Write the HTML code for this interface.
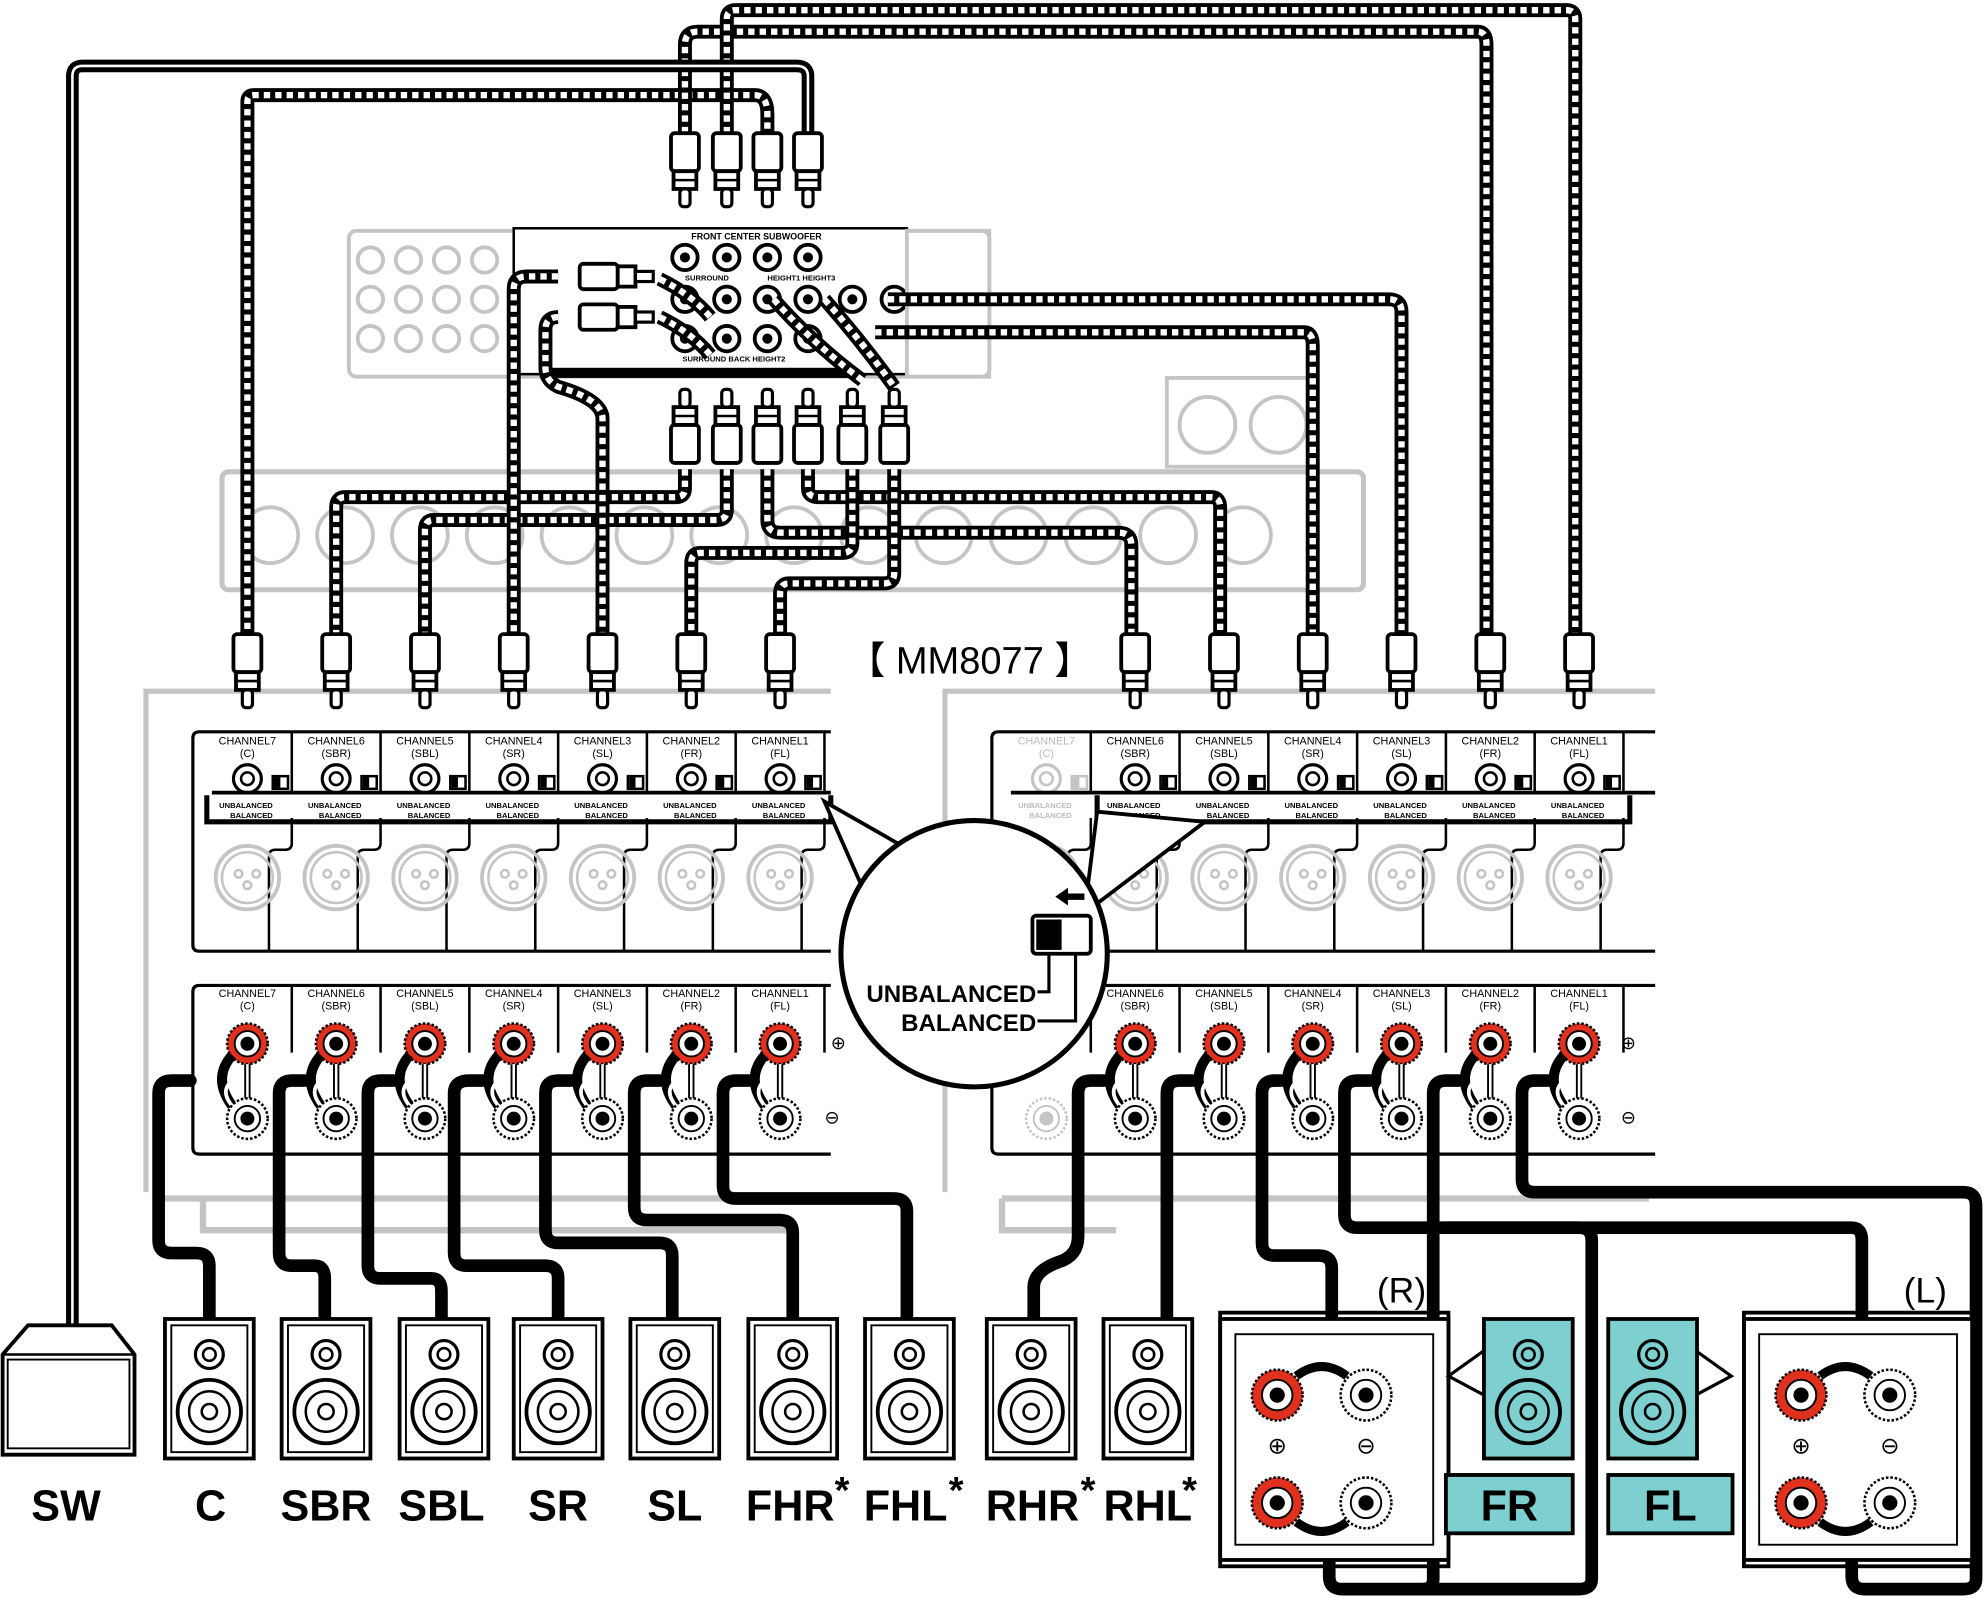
<!DOCTYPE html>
<html><head><meta charset="utf-8"><style>
html,body{margin:0;padding:0;background:#fff;}
svg{display:block;}
text{font-family:"Liberation Sans",sans-serif;}
</style></head><body>
<svg id="s" width="1985" height="1598" viewBox="0 0 1565 1260" xmlns="http://www.w3.org/2000/svg">
<g id="g"></g>
</svg>
<script>
const g=document.getElementById('g');let h='';
const gr='#c4c4c4';
h+=`<rect x="275" y="182" width="505" height="115" rx="6" fill="none" stroke="${gr}" stroke-width="3"/>`;
for(let r=0;r<3;r++)for(let c=0;c<4;c++){h+=`<circle cx="${292+c*30}" cy="${205+r*31}" r="10" fill="none" stroke="${gr}" stroke-width="3"/>`;}
for(let r=0;r<3;r++)for(let c=0;c<3;c++){h+=`<circle cx="${420+c*30}" cy="${205+r*31}" r="10" fill="none" stroke="${gr}" stroke-width="3"/>`;}
h+=`<rect x="405" y="180" width="310" height="115" fill="#fff" stroke="#000" stroke-width="2"/>`;
h+=`<rect x="435" y="290" width="235" height="8" fill="#000"/>`;
[[540,203],[573,203],[605,203],[637,203],[540,236],[573,236],[605,236],[637,236],[672,236],[705,236],[540,267],[573,267],[605,267],[637,267]].forEach(p=>{h+=`<circle cx="${p[0]}" cy="${p[1]}" r="10" fill="#fff" stroke="#000" stroke-width="3"/><circle cx="${p[0]}" cy="${p[1]}" r="4" fill="#000"/>`;});
h+=`<text x="545" y="189" font-size="7" font-weight="bold">FRONT   CENTER  SUBWOOFER</text><text x="540" y="221" font-size="6" font-weight="bold">SURROUND</text><text x="605" y="221" font-size="6" font-weight="bold">HEIGHT1   HEIGHT3</text><text x="538" y="285" font-size="6" font-weight="bold">SURROUND BACK   HEIGHT2</text>`;
h+=`<rect x="715" y="182" width="65" height="115" fill="none" stroke="${gr}" stroke-width="3"/>`;
h+=`<rect x="175" y="372" width="900" height="93" rx="5" fill="none" stroke="${gr}" stroke-width="4"/>`;
for(let i=0;i<14;i++){h+=`<circle cx="${213+i*59}" cy="${422}" r="22" fill="none" stroke="${gr}" stroke-width="3"/>`;}
h+=`<rect x="920" y="298" width="115" height="70" fill="none" stroke="${gr}" stroke-width="3"/><circle cx="952" cy="335" r="22" fill="none" stroke="${gr}" stroke-width="3"/><circle cx="1008" cy="335" r="22" fill="none" stroke="${gr}" stroke-width="3"/>`;
h+=`<path d="M115 940 V545 H655 M745 940 V545 H1305" fill="none" stroke="${gr}" stroke-width="4"/>`;
h+=`<path d="M130 945 H650 M160 945 V970 H620 M790 945 H1300 M790 945 V970 H880" fill="none" stroke="${gr}" stroke-width="5"/>`;
function dc(d){h+=`<path d="${d}" fill="none" stroke="#000" stroke-width="11" stroke-linejoin="round"/><path d="${d}" fill="none" stroke="#fff" stroke-width="5" stroke-dasharray="5 4" stroke-linejoin="round"/>`;}
function sc(d,w){h+=`<path d="${d}" fill="none" stroke="#000" stroke-width="${w||10}" stroke-linejoin="round" stroke-linecap="round"/>`;}
dc('M195 505 V80 Q195 75 200 75 H595 Q605 75 605 90 V105');
dc('M540 105 V35 Q540 25 550 25 H1165 Q1172 25 1172 35 V505');
dc('M573 105 V15 Q573 8 580 8 H1235 Q1242 8 1242 15 V505');
dc('M540 370 V385 Q540 392 533 392 H272 Q265 392 265 400 V505');
dc('M573 370 V402 Q573 410 565 410 H342 Q335 410 335 418 V505');
dc('M605 370 V410 Q605 420 615 420 H882 Q892 420 892 430 V505');
dc('M637 370 V385 Q637 392 645 392 H955 Q962 392 962 400 V505');
dc('M672 370 V428 Q672 436 664 436 H552 Q545 436 545 444 V505');
dc('M705 370 V452 Q705 460 697 460 H622 Q615 460 615 468 V505');
dc('M440 218 H415 Q405 218 405 228 V505');
dc('M440 250 H440 Q430 250 430 260 V290 Q430 300 440 305 Q475 315 475 330 V505');
dc('M700 236 H1095 Q1105 236 1105 246 V505');
dc('M690 262 H1028 Q1035 262 1035 272 V505');
dc('M520 220 Q545 232 560 250'); dc('M520 250 Q545 262 560 280');
dc('M610 236 Q640 270 680 300'); dc('M650 236 Q680 270 705 305');
h+=`<path d="M637 105 V60 Q637 52 628 52 H65 Q57 52 57 60 V1045" fill="none" stroke="#000" stroke-width="10"/><path d="M637 105 V60 Q637 52 628 52 H65 Q57 52 57 60 V1045" fill="none" stroke="#fff" stroke-width="2"/>`;
function plug(x,y,dir){
 let s=dir;h+=`<g transform="translate(${x},${y}) scale(1,${s})"><rect x="-11" y="0" width="22" height="30" rx="3" fill="#fff" stroke="#000" stroke-width="3"/><rect x="-9" y="30" width="18" height="14" fill="#fff" stroke="#000" stroke-width="3"/><line x1="-9" y1="37" x2="9" y2="37" stroke="#000" stroke-width="2"/><rect x="-4" y="44" width="8" height="14" rx="3" fill="#fff" stroke="#000" stroke-width="2.5"/></g>`;}
[540,573,605,637].forEach(x=>plug(x,105,1));
[540,573,605,637,672,705].forEach(x=>plug(x,365,-1));
function hplug(x,y){h+=`<g transform="translate(${x},${y})"><rect x="0" y="-10" width="30" height="20" rx="3" fill="#fff" stroke="#000" stroke-width="3"/><rect x="30" y="-8" width="14" height="16" fill="#fff" stroke="#000" stroke-width="3"/><rect x="44" y="-4" width="14" height="8" fill="#fff" stroke="#000" stroke-width="2.5"/></g>`;}
hplug(457,218);hplug(457,250);
const L=[195,265,335,405,475,545,615],R=[825,895,965,1035,1105,1175,1245];
const nm=['CHANNEL7','CHANNEL6','CHANNEL5','CHANNEL4','CHANNEL3','CHANNEL2','CHANNEL1'],sub=['(C)','(SBR)','(SBL)','(SR)','(SL)','(FR)','(FL)'];
L.concat(R.slice(1)).forEach(x=>plug(x,500,1));
function amp(xs,x0,x1,gray0){
 h+=`<path d="M${x1} 577 H${x0+5} Q${x0} 577 ${x0} 582 V745 Q${x0} 750 ${x0+5} 750 H${x1}" fill="none" stroke="#000" stroke-width="2.5"/>`;
 h+=`<path d="M${x1} 777 H${x0+5} Q${x0} 777 ${x0} 782 V905 Q${x0} 910 ${x0+5} 910 H${x1}" fill="none" stroke="#000" stroke-width="2.5"/>`;
 xs.forEach((x,i)=>{const gy=(gray0&&i==0);const c=gy?gr:'#000';
  h+=`<line x1="${x+35}" y1="577" x2="${x+35}" y2="625" stroke="#000" stroke-width="2"/><path d="M${x+35} 645 V665 Q${x+35} 670 ${x+30} 670 H${x+22} Q${x+17} 670 ${x+17} 675 V750" fill="none" stroke="#000" stroke-width="2"/>`;
  h+=`<text x="${x}" y="587" font-size="8.5" text-anchor="middle" fill="${gy?'#bbb':'#000'}">${nm[i]}</text><text x="${x}" y="597" font-size="8.5" text-anchor="middle" fill="${gy?'#bbb':'#000'}">${sub[i]}</text>`;
  h+=`<circle cx="${x}" cy="614" r="11" fill="#fff" stroke="${c}" stroke-width="2.5"/><circle cx="${x}" cy="614" r="5" fill="#fff" stroke="${c}" stroke-width="2"/>`;
  h+=`<rect x="${x+20}" y="612" width="12" height="10" fill="#fff" stroke="${c}" stroke-width="2"/><rect x="${x+21}" y="613" width="5" height="8" fill="${c}"/>`;
  h+=`<text x="${x+20}" y="637" font-size="6" font-weight="bold" text-anchor="end" fill="${gy?'#bbb':'#000'}">UNBALANCED</text><text x="${x+20}" y="645" font-size="6" font-weight="bold" text-anchor="end" fill="${gy?'#bbb':'#000'}">BALANCED</text>`;
  h+=`<circle cx="${x}" cy="692" r="25" fill="none" stroke="${gr}" stroke-width="3"/><circle cx="${x}" cy="692" r="20" fill="none" stroke="${gr}" stroke-width="2"/><circle cx="${x-7}" cy="689" r="3" fill="none" stroke="${gr}" stroke-width="2"/><circle cx="${x+7}" cy="689" r="3" fill="none" stroke="${gr}" stroke-width="2"/><circle cx="${x}" cy="698" r="3" fill="none" stroke="${gr}" stroke-width="2"/>`;
  h+=`<line x1="${x+35}" y1="777" x2="${x+35}" y2="830" stroke="#000" stroke-width="2"/>`;
  h+=`<text x="${x}" y="786" font-size="8.5" text-anchor="middle" fill="${gy?'#bbb':'#000'}">${nm[i]}</text><text x="${x}" y="796" font-size="8.5" text-anchor="middle" fill="${gy?'#bbb':'#000'}">${sub[i]}</text>`;
  if(!gy){h+=`<circle cx="${x}" cy="823" r="16" fill="#e0301e" stroke="#000" stroke-width="2" stroke-dasharray="2 1.5"/><circle cx="${x}" cy="823" r="10" fill="#fff" stroke="#000" stroke-width="1.5"/><circle cx="${x}" cy="823" r="5.5" fill="#000"/>`;
   h+=`<line x1="${x}" y1="839" x2="${x}" y2="866" stroke="#000" stroke-width="5"/><line x1="${x}" y1="839" x2="${x}" y2="866" stroke="#fff" stroke-width="2"/>`;
   h+=`<path d="M${x-12} 832 Q${x-28} 850 ${x-12} 872" fill="none" stroke="#000" stroke-width="8"/><path d="M${x-12} 852 Q${x-22} 860 ${x-12} 872" fill="none" stroke="#fff" stroke-width="3"/>`;}
  h+=`<circle cx="${x}" cy="882" r="16" fill="#fff" stroke="${c}" stroke-width="2" stroke-dasharray="2 1.5"/><circle cx="${x}" cy="882" r="10" fill="#fff" stroke="${c}" stroke-width="1.5"/><circle cx="${x}" cy="882" r="5.5" fill="${gy?gr:'#000'}"/>`;
 });
 h+=`<line x1="${x0+15}" y1="625" x2="${x1}" y2="625" stroke="#000" stroke-width="3"/>`;
}
amp(L,152,655,false);amp(R,782,1305,true);
h+=`<path d="M163 627 V648 H655 V627" fill="none" stroke="#000" stroke-width="4"/><path d="M865 627 V648 H1285 V627" fill="none" stroke="#000" stroke-width="4"/>`;
h+=`<text x="655" y="827" font-size="14">⊕</text><text x="650" y="886" font-size="14">⊖</text><text x="1278" y="827" font-size="14">⊕</text><text x="1278" y="886" font-size="14">⊖</text>`;
h+=`<text x="668" y="531" font-size="30">【 MM8077 】</text>`;
h+=`<path d="M650 632 L720 672 L680 700 Z" fill="#fff" stroke="#000" stroke-width="3"/><path d="M865 640 L950 648 L855 720 Z" fill="#fff" stroke="#000" stroke-width="3"/>`;
h+=`<circle cx="768" cy="752" r="105" fill="#fff" stroke="#000" stroke-width="4"/>`;
h+=`<rect x="814" y="722" width="46" height="30" rx="3" fill="#fff" stroke="#000" stroke-width="3"/><rect x="817" y="725" width="20" height="24" fill="#000"/>`;
h+=`<path d="M855 707 H840" stroke="#000" stroke-width="5"/><path d="M832 707 L842 700 L842 714 Z" fill="#000"/>`;
h+=`<path d="M818 782 H827 V752 M818 805 H848 V752" fill="none" stroke="#000" stroke-width="2.5"/>`;
h+=`<text x="817" y="790" font-size="19" font-weight="bold" text-anchor="end">UNBALANCED</text><text x="817" y="813" font-size="19" font-weight="bold" text-anchor="end">BALANCED</text>`;
sc('M150 852 H135 Q125 852 125 862 V978 Q125 988 135 988 H155 Q165 988 165 998 V1042');
sc('M240 852 H230 Q220 852 220 862 V988 Q220 998 230 998 H248 Q256 998 256 1008 V1042');
sc('M310 852 H300 Q290 852 290 862 V998 Q290 1008 300 1008 H340 Q348 1008 348 1018 V1042');
sc('M380 852 H370 Q358 852 358 862 V988 Q358 998 368 998 H430 Q440 998 440 1008 V1042');
sc('M450 852 H440 Q430 852 430 862 V970 Q430 980 440 980 H520 Q530 980 530 990 V1042');
sc('M520 852 H510 Q500 852 500 862 V952 Q500 962 510 962 H615 Q625 962 625 972 V1042');
sc('M590 852 H580 Q570 852 570 862 V935 Q570 945 580 945 H705 Q715 945 715 955 V1042');
sc('M870 852 H860 Q850 852 850 862 V975 Q850 990 835 995 Q815 1002 815 1015 V1042');
sc('M940 852 H930 Q920 852 920 862 V1042');
sc('M1010 852 H1005 Q995 852 995 862 V980 Q995 990 1005 990 H1040 Q1050 990 1050 1000 V1080');
sc('M1080 852 H1070 Q1060 852 1060 862 V958 Q1060 968 1070 968 H1245 Q1255 968 1255 978 V1245 Q1255 1253 1245 1253 H1058 Q1048 1253 1048 1243 V1210');
sc('M1150 852 H1140 Q1130 852 1130 862 V1245 Q1130 1253 1122 1253');
sc('M1220 852 H1210 Q1200 852 1200 862 V930 Q1200 940 1210 940 H1548 Q1558 940 1558 950 V1245 Q1558 1253 1548 1253 H1470 Q1460 1253 1460 1243 V1210');
sc('M1140 968 H1460 Q1468 968 1468 978 V1080');
function spk(x,w){h+=`<rect x="${x}" y="1040" width="${w}" height="110" fill="#fff" stroke="#000" stroke-width="3"/><rect x="${x+5}" y="1045" width="${w-10}" height="100" fill="none" stroke="#000" stroke-width="1.5"/><circle cx="${x+w/2}" cy="1068" r="11" fill="#fff" stroke="#000" stroke-width="2.5"/><circle cx="${x+w/2}" cy="1068" r="5" fill="none" stroke="#000" stroke-width="2"/><circle cx="${x+w/2}" cy="1113" r="25" fill="#fff" stroke="#000" stroke-width="3"/><circle cx="${x+w/2}" cy="1113" r="16" fill="none" stroke="#000" stroke-width="2"/><circle cx="${x+w/2}" cy="1113" r="6" fill="none" stroke="#000" stroke-width="2"/>`;}
[130,222,315,405,497,590,682,778,870].forEach(x=>spk(x,70));
h+=`<path d="M2 1068 L22 1045 H88 L106 1068 V1147 H2 Z" fill="#fff" stroke="#000" stroke-width="3"/><line x1="2" y1="1068" x2="106" y2="1068" stroke="#000" stroke-width="2"/><rect x="6" y="1072" width="96" height="70" fill="none" stroke="#000" stroke-width="1.5"/>`;
[['SW',52],['C',166],['SBR',257],['SBL',348],['SR',440],['SL',532],['FHR',623],['FHL',714],['RHR',814],['RHL',905]].forEach(l=>{h+=`<text x="${l[1]}" y="1199" font-size="34" font-weight="bold" text-anchor="middle">${l[0]}</text>`;});
[658,748,852,932].forEach(a=>{h+=`<text x="${a}" y="1185" font-size="30" font-weight="bold">*</text>`;});
function terms(x){h+=`<rect x="${x}" y="1040" width="180" height="190" fill="#fff" stroke="#000" stroke-width="3"/><rect x="${x+12}" y="1052" width="156" height="166" fill="none" stroke="#000" stroke-width="1.5"/>`;
 [[x+45,1100,1],[x+115,1100,0],[x+45,1185,1],[x+115,1185,0]].forEach(t=>{h+=`<circle cx="${t[0]}" cy="${t[1]}" r="20" fill="${t[2]?'#e0301e':'#fff'}" stroke="#000" stroke-width="2" stroke-dasharray="2 1.5"/><circle cx="${t[0]}" cy="${t[1]}" r="12" fill="#fff" stroke="#000" stroke-width="1.5"/><circle cx="${t[0]}" cy="${t[1]}" r="6" fill="#000"/>`;});
 h+=`<text x="${x+45}" y="1146" font-size="18" text-anchor="middle">⊕</text><text x="${x+115}" y="1146" font-size="18" text-anchor="middle">⊖</text>`;
 h+=`<path d="M${x+60} 1085 Q${x+80} 1070 ${x+100} 1085 M${x+60} 1200 Q${x+80} 1215 ${x+100} 1200" fill="none" stroke="#000" stroke-width="7"/>`;}
terms(962);terms(1375);
h+=`<path d="M1142 1085 L1170 1100 L1170 1065 Z" fill="#fff" stroke="#000" stroke-width="2.5"/><path d="M1365 1085 L1337 1100 L1337 1065 Z" fill="#fff" stroke="#000" stroke-width="2.5"/>`;
h+=`<rect x="962" y="1035" width="180" height="200" fill="none" stroke="#000" stroke-width="3"/><rect x="1375" y="1035" width="180" height="200" fill="none" stroke="#000" stroke-width="3"/>`;
function tspk(x){h+=`<rect x="${x}" y="1040" width="70" height="110" fill="#7ecfcf" stroke="#000" stroke-width="3"/><circle cx="${x+35}" cy="1068" r="11" fill="#7ecfcf" stroke="#000" stroke-width="2.5"/><circle cx="${x+35}" cy="1068" r="5" fill="none" stroke="#000" stroke-width="2"/><circle cx="${x+35}" cy="1113" r="25" fill="#7ecfcf" stroke="#000" stroke-width="3"/><circle cx="${x+35}" cy="1113" r="16" fill="none" stroke="#000" stroke-width="2"/><circle cx="${x+35}" cy="1113" r="6" fill="none" stroke="#000" stroke-width="2"/>`;}
tspk(1170);tspk(1268);
h+=`<rect x="1140" y="1163" width="100" height="46" fill="#7ecfcf" stroke="#000" stroke-width="3"/><text x="1190" y="1199" font-size="34" font-weight="bold" text-anchor="middle">FR</text>`;
h+=`<rect x="1268" y="1163" width="98" height="46" fill="#7ecfcf" stroke="#000" stroke-width="3"/><text x="1317" y="1199" font-size="34" font-weight="bold" text-anchor="middle">FL</text>`;
h+=`<text x="1105" y="1027" font-size="28" text-anchor="middle">(R)</text><text x="1518" y="1027" font-size="28" text-anchor="middle">(L)</text>`;
g.innerHTML=h;
</script>
</body></html>
